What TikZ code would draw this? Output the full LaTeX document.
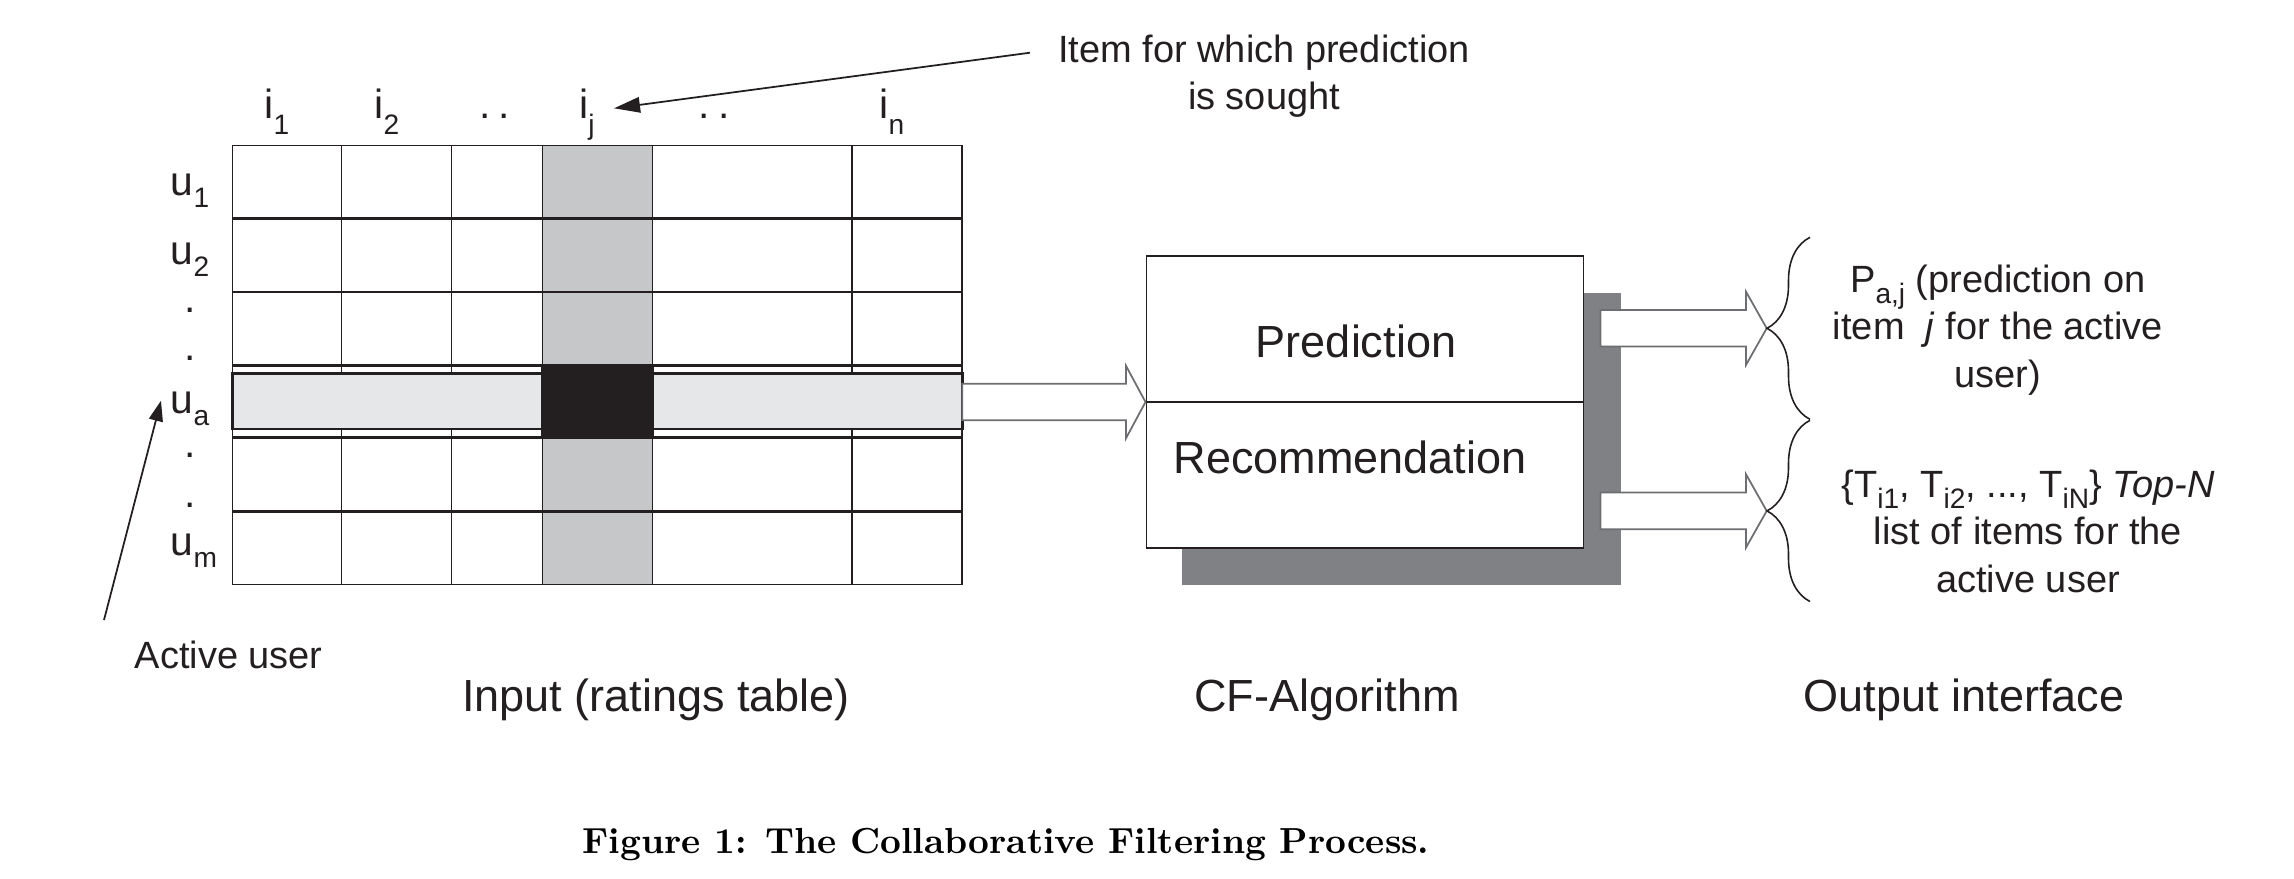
\documentclass[tikz,border=0pt]{standalone}
\usepackage{fontspec}
\newfontfamily\sansf{Liberation Sans}
\usetikzlibrary{arrows.meta,decorations.pathreplacing}

\definecolor{ink}{HTML}{231F20}
\definecolor{colgray}{HTML}{C6C7C9}
\definecolor{rowgray}{HTML}{E6E7E8}
\definecolor{shadowgray}{HTML}{808184}
\definecolor{arrowedge}{HTML}{6D6E71}

% lowered, smaller indices
\newcommand\colsub[1]{\raisebox{-4.6pt}{\fontsize{8}{8}\selectfont #1}}
\newcommand\rowsub[1]{\raisebox{-3.6pt}{\fontsize{8}{8}\selectfont #1}}
\newcommand\outsub[1]{\raisebox{-3.3pt}{\fontsize{8}{8}\selectfont #1}}

\begin{document}
\begin{tikzpicture}[x=0.01cm,y=-0.01cm,
  thinrule/.style={draw=ink,line width=0.45pt},
  thickrule/.style={draw=ink,line width=0.8pt},
  lbl/.style={font=\sansf\fontsize{11.6}{14}\selectfont,text=ink,inner sep=0pt,anchor=base},
  small/.style={font=\sansf\fontsize{10.8}{13.5}\selectfont,text=ink,inner sep=0pt,align=center,anchor=north},
  big/.style={font=\sansf\fontsize{12.8}{15}\selectfont,text=ink,inner sep=0pt,anchor=base},
  blockarrow/.style={draw=arrowedge,line width=0.5pt,fill=white,line join=miter},
  bracket/.style={draw=ink,line width=0.45pt,decorate,decoration={brace,amplitude=0.43cm}},
  pointer/.style={draw=ink,line width=0.5pt}
]
\useasboundingbox (0,0) rectangle (2294,878);

% ---------- ratings table ----------
\fill[colgray] (542.5,145.3) rectangle (652.4,584.5);
\foreach \x in {341.6,451.5,542.5,652.4,852.2}
  \draw[thinrule] (\x,145.3) -- (\x,584.5);
\draw[thinrule] (232.7,145.3) rectangle (962.2,584.5);
\foreach \y in {218.6,291.9,365.2,437.8,511.1}
  \draw[thickrule] (232.7,\y) -- (962.2,\y);
% active user row and the cell to predict
\draw[thickrule,fill=rowgray] (232.7,373.6) rectangle (962.2,429);
\fill[ink] (541.4,364.4) rectangle (653.6,438.4);
\coordinate (uaRight) at (962.2,401.2);

% column labels
\node[lbl] (i1) at (277,118) {i\colsub{1}};
\node[lbl] (i2) at (387,118) {i\colsub{2}};
\node[lbl] (d1) at (494.5,118) {.\hspace{2.3pt}.};
\node[lbl] (ij) at (587,118) {i\colsub{j}};
\node[lbl] (d2) at (714,118) {.\hspace{2.3pt}.};
\node[lbl] (in) at (892,118) {i\colsub{n}};

% row labels
\node[lbl] (u1) at (190,195) {u\rowsub{1}};
\node[lbl] (u2) at (190,264) {u\rowsub{2}};
\node[lbl] (r1) at (190,312) {.};
\node[lbl] (r2) at (190,360) {.};
\node[lbl] (ua) at (190,413) {u\rowsub{a}};
\node[lbl] (r3) at (190,457) {.};
\node[lbl] (r4) at (190,507) {.};
\node[lbl] (um) at (194,555) {u\rowsub{m}};

% pointer labels
\node[small] (sought) at (1264,34) {Item for which prediction\\is sought};
\coordinate (soughtTail) at (1030,52.7);
\coordinate (ijTip) at (614,108.3);
\draw[pointer,-{Triangle[length=7.4pt,width=4.4pt]}] (soughtTail) -- (ijTip);

\node[font=\sansf\fontsize{10.8}{13.5}\selectfont,text=ink,inner sep=0pt,anchor=base west]
  (active) at (134,668.3) {Active user};
\coordinate (activeTail) at (104,620);
\coordinate (uaTip) at (161,400.7);
\draw[pointer,-{Triangle[length=5.8pt,width=4pt]}] (activeTail) -- (uaTip);

% ---------- CF algorithm ----------
\node[fill=shadowgray,inner sep=0pt,minimum width=4.392cm,minimum height=2.923cm,anchor=north west]
  (cfshadow) at (1180.8,292) {};
\node[draw=ink,fill=white,line width=0.45pt,inner sep=0pt,minimum width=4.371cm,minimum height=2.917cm,anchor=north west]
  (cf) at (1145.5,255.3) {};
\draw[thickrule] (cf.west) -- (cf.east);
\node[big] (pred) at (1356,357.7) {Prediction};
\node[big] (rec) at (1350,473.3) {Recommendation};

% input arrow into the algorithm
\draw[blockarrow] (cf.west) -- ++(-19.5,-36.2) -- ++(0,17.9) coordinate (s1)
  -- (s1 -| uaRight) -- ++(0,36.6) coordinate (s2) -- (s2 -| s1) -- ++(0,17.9) -- cycle;

% ---------- output interface ----------
\coordinate (out1) at (1766.7,328.3);
\coordinate (out2) at (1766.7,510.9);
\draw[blockarrow] (out1) -- ++(-20.7,-36.6) -- ++(0,18.3) -- ++(-145.5,0)
  -- ++(0,36.6) -- ++(145.5,0) -- ++(0,18.3) -- cycle;
\draw[blockarrow] (out2) -- ++(-20.7,-36.6) -- ++(0,18.3) -- ++(-145.5,0)
  -- ++(0,36.6) -- ++(145.5,0) -- ++(0,18.3) -- cycle;

\coordinate (b1top) at (1810,237.3);
\coordinate (b1bot) at (1810,419.3);
\coordinate (b2top) at (1810,420.3);
\coordinate (b2bot) at (1810,601.5);
\draw[bracket] (b1bot) -- (b1top);
\draw[bracket] (b2bot) -- (b2top);

\node[small] (predout) at (1998,264)
  {P\outsub{a,j} (prediction on\\item \ \textit{j} for the active\\user)};
\node[small] (topn) at (2028,469)
  {\{T\outsub{i1}, T\outsub{i2}, ..., T\outsub{iN}\} \textit{Top-N}\\list of items for the\\active user};

% ---------- stage titles ----------
\node[big] (tin) at (656,711.7) {Input (ratings table)};
\node[big] (talg) at (1327,711.7) {CF-Algorithm};
\node[big] (tout) at (1964,711.7) {Output interface};

\node[font=\fontsize{10.3}{12}\selectfont\bfseries,text=black,inner sep=0pt,anchor=base]
  (caption) at (1006,853) {Figure 1: The Collaborative Filtering Process.};
\end{tikzpicture}
\end{document}
